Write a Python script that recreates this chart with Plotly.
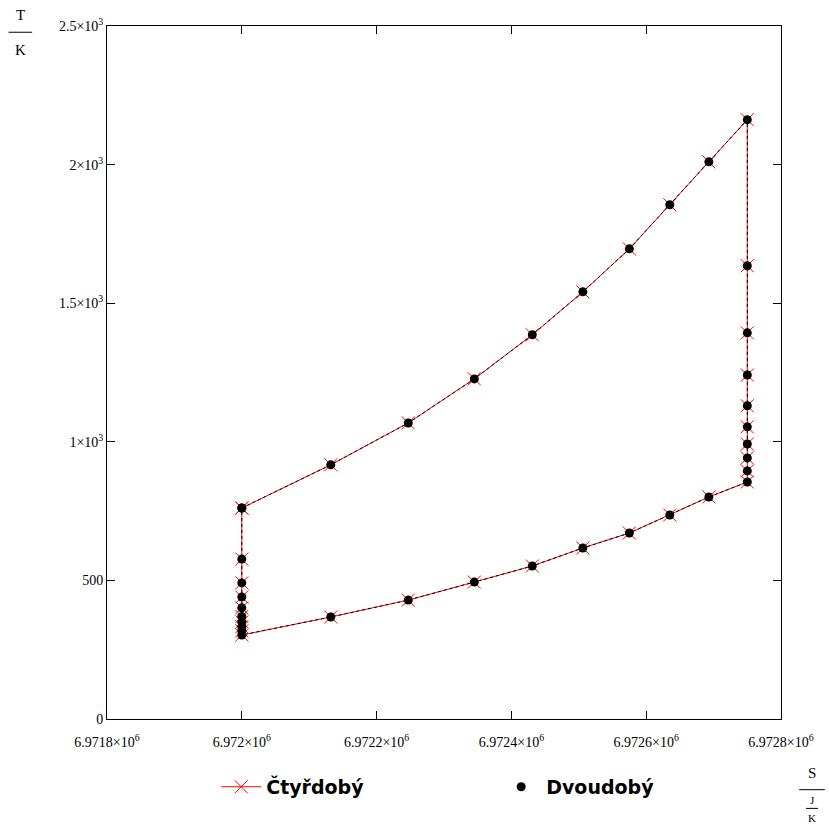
import plotly.graph_objects as go

# Entropy levels (J/K) of the cycle states
S_levels = [6972000, 6972132, 6972247, 6972345, 6972431, 6972506, 6972575, 6972635, 6972693, 6972750]
# Temperatures (K)
T_heating = [761, 917, 1068, 1227, 1386, 1541, 1696, 1855, 2010, 2162]        # along S_levels
T_expansion = [2162, 1635, 1393, 1241, 1130, 1054, 992, 942, 895, 855]        # at S_levels[-1]
T_cooling = [855, 801, 736, 671, 617, 552, 494, 429, 368, 303]                # along S_levels reversed
T_compression = [303, 318, 333, 350, 370, 401, 440, 491, 577, 761]           # at S_levels[0]

S = S_levels + [S_levels[-1]] * 9 + S_levels[::-1][1:] + [S_levels[0]] * 9
T = T_heating + T_expansion[1:] + T_cooling[1:] + T_compression[1:]

x_ticks = [6971800, 6972000, 6972200, 6972400, 6972600, 6972800]
x_ticktext = ["6.9718×10<sup>6</sup>", "6.972×10<sup>6</sup>", "6.9722×10<sup>6</sup>",
              "6.9724×10<sup>6</sup>", "6.9726×10<sup>6</sup>", "6.9728×10<sup>6</sup>"]
y_ticks = [0, 500, 1000, 1500, 2000, 2500]
y_ticktext = ["0", "500", "1×10<sup>3</sup>", "1.5×10<sup>3</sup>", "2×10<sup>3</sup>", "2.5×10<sup>3</sup>"]

fig = go.Figure()
fig.add_trace(go.Scatter(
    x=S, y=T, mode="lines+markers", name="<b>Čtyřdobý</b>",
    line=dict(color="red", width=1),
    marker=dict(symbol="x-thin", size=13, line=dict(color="red", width=1), color="red"),
))
fig.add_trace(go.Scatter(
    x=S, y=T, mode="lines", showlegend=False, hoverinfo="skip",
    line=dict(color="black", width=1, dash="dot"),
))
fig.add_trace(go.Scatter(
    x=S, y=T, mode="markers", name="<b>Dvoudobý</b>",
    marker=dict(symbol="circle", size=9, color="black"),
))

axis_font = dict(family="Liberation Serif", size=14, color="black")
fig.update_xaxes(range=[6971800, 6972800], tickvals=x_ticks, ticktext=x_ticktext,
                 ticks="inside", ticklen=8, tickcolor="black", showline=True, linecolor="black",
                 linewidth=1, mirror="ticks", showgrid=False, zeroline=False, tickfont=axis_font,
                 ticklabelstandoff=10)
fig.update_yaxes(range=[0, 2500], tickvals=y_ticks, ticktext=y_ticktext,
                 ticks="inside", ticklen=8, tickcolor="black", showline=True, linecolor="black",
                 linewidth=1, mirror="ticks", showgrid=False, zeroline=False, tickfont=axis_font)

lab = dict(family="Liberation Serif", size=15, color="black")
small = dict(family="Liberation Serif", size=11, color="black")
annotations = [
    dict(text="T", x=-0.129, y=1.016, font=lab),
    dict(text="K", x=-0.129, y=0.966, font=lab),
    dict(text="S", x=1.046, y=-0.078, font=lab),
    dict(text="J", x=1.046, y=-0.117, font=small),
    dict(text="K", x=1.046, y=-0.143, font=small),
]
for a in annotations:
    a.update(xref="paper", yref="paper", showarrow=False, xanchor="center", yanchor="middle")

shapes = [
    dict(type="line", xref="paper", yref="paper", x0=-0.146, x1=-0.111, y0=0.991, y1=0.991,
         line=dict(color="black", width=1)),
    dict(type="line", xref="paper", yref="paper", x0=1.027, x1=1.065, y0=-0.102, y1=-0.102,
         line=dict(color="black", width=1)),
    dict(type="line", xref="paper", yref="paper", x0=1.037, x1=1.055, y0=-0.129, y1=-0.129,
         line=dict(color="black", width=1)),
]

fig.update_layout(
    width=829, height=827,
    margin=dict(l=107, r=48, t=26, b=108),
    paper_bgcolor="white", plot_bgcolor="white",
    annotations=annotations, shapes=shapes,
    showlegend=True,
    legend=dict(orientation="h", x=0.162, y=-0.098, xanchor="left", yanchor="middle",
                font=dict(family="DejaVu Sans", size=19, color="black"),
                entrywidth=225, entrywidthmode="pixels", itemwidth=40, bgcolor="rgba(0,0,0,0)"),
)

fig.write_html("out.html")
